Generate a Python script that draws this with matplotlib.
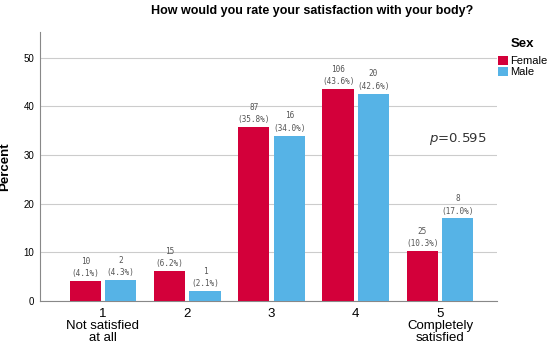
import matplotlib.pyplot as plt
import numpy as np

plt.rcParams['font.family'] = ['Liberation Sans', 'DejaVu Sans']

categories = ['1\nNot satisfied\nat all', '2', '3', '4', '5\nCompletely\nsatisfied']
female_n = [10, 15, 87, 106, 25]
female_pct = [4.1, 6.2, 35.8, 43.6, 10.3]
male_n = [2, 1, 16, 20, 8]
male_pct = [4.3, 2.1, 34.0, 42.6, 17.0]

red = '#D3003A'
blue = '#56B3E6'

fig = plt.figure(figsize=(5.5, 3.49), dpi=100)
ax = fig.add_axes([40 / 550, 48 / 349, 457 / 550, 269 / 349])

x = np.arange(1, 6)
w = 0.37
off = 0.21
ax.bar(x - off, female_pct, w, color=red, label='Female', zorder=3)
ax.bar(x + off, male_pct, w, color=blue, label='Male', zorder=3)

for xi, n, p in zip(x, female_n, female_pct):
    ax.annotate('%d\n(%.1f%%)' % (n, p), (xi - off, p), xytext=(0, 2),
                textcoords='offset points', ha='center', va='bottom',
                fontsize=5.6, color='#555555', family='DejaVu Sans Mono',
                linespacing=1.5)
for xi, n, p in zip(x, male_n, male_pct):
    ax.annotate('%d\n(%.1f%%)' % (n, p), (xi + off, p), xytext=(0, 2),
                textcoords='offset points', ha='center', va='bottom',
                fontsize=5.6, color='#555555', family='DejaVu Sans Mono',
                linespacing=1.5)

ax.set_xlim(0.253, 5.676)
ax.set_ylim(0, 55.3)
ax.set_yticks([0, 10, 20, 30, 40, 50])
ax.set_xticks(x)
ax.set_xticklabels(categories, fontsize=9.5, linespacing=1.0)
ax.tick_params(axis='y', labelsize=7, length=0, pad=4)
ax.tick_params(axis='x', length=0, pad=5)
ax.yaxis.grid(True, color='#cccccc', linewidth=0.8, zorder=0)
for s in ['top', 'right']:
    ax.spines[s].set_visible(False)
for s in ['left', 'bottom']:
    ax.spines[s].set_color('#888888')
    ax.spines[s].set_linewidth(0.8)

ax.set_ylabel('Percent', fontsize=9.5, fontweight='bold')
ax.yaxis.set_label_coords(-29 / 457, 0.5)
fig.text(312 / 550, 1 - 11 / 349, 'How would you rate your satisfaction with your body?',
         ha='center', va='center', fontsize=9, fontweight='bold')

fig.text(458 / 550, 1 - 139 / 349, r'$p$=0.595', ha='center', va='center',
         fontsize=9.5, color='#333333', family='DejaVu Sans')

fig.text(522 / 550, 1 - 44 / 349, 'Sex', ha='center', va='center',
         fontsize=9.5, fontweight='bold')
leg = fig.legend(loc='upper left', bbox_to_anchor=(498 / 550, 1 - 56 / 349),
                 frameon=False, fontsize=8, handlelength=0.9,
                 handleheight=0.9, handletextpad=0.15, labelspacing=0.05,
                 borderaxespad=0, borderpad=0)

fig.savefig('out.png', dpi=100)
